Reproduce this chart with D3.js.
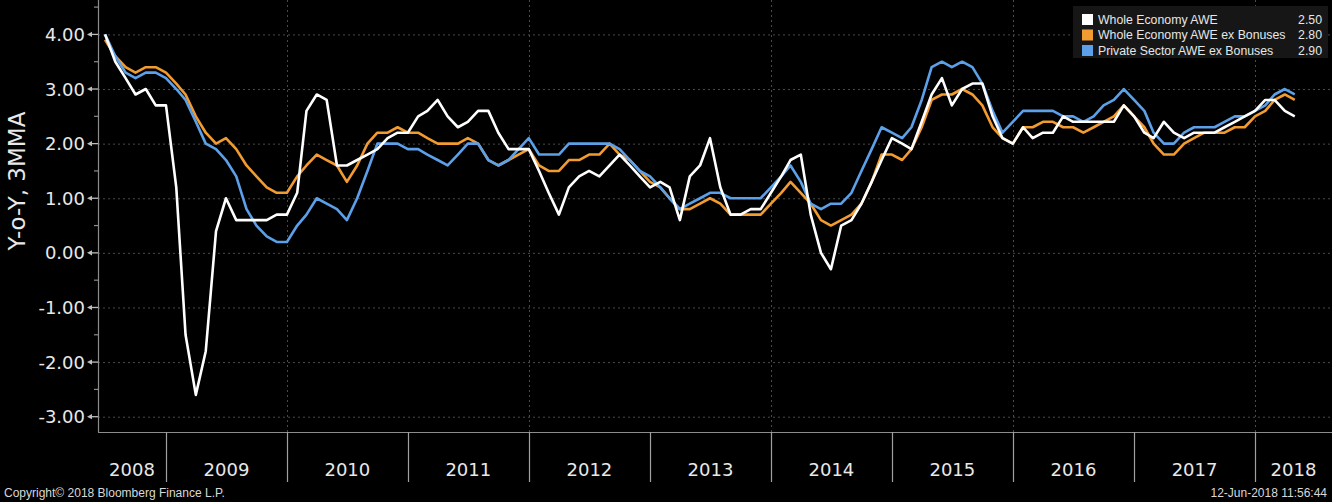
<!DOCTYPE html>
<html>
<head>
<meta charset="utf-8">
<script src="https://cdn.jsdelivr.net/npm/d3@7"></script>
<style>
  html, body { margin: 0; padding: 0; background: #000; }
  svg { display: block; }
</style>
</head>
<body>
<svg id="chart" width="1332" height="502"></svg>
<script>
// ---------------- DATA ----------------
const firstMonth = "2008-06";   // first observation (monthly, 3MMA)
const seriesNames = ["Whole Economy AWE", "Whole Economy AWE ex Bonuses", "Private Sector AWE ex Bonuses"];
const legendValues = ["2.50", "2.80", "2.90"];
const yTickValues = [-3, -2, -1, 0, 1, 2, 3, 4];
const yearLabels = [2008, 2009, 2010, 2011, 2012, 2013, 2014, 2015, 2016, 2017, 2018];
const gridYears = [2010, 2012, 2014, 2016, 2018];

const wholeEconomy = [
  4.0, 3.5, 3.2, 2.9, 3.0, 2.7, 2.7, 1.2, -1.5, -2.6, -1.8, 0.4, 1.0, 0.6, 0.6, 0.6, 0.6, 0.7, 0.7, 1.1,
  2.6, 2.9, 2.8, 1.6, 1.6, 1.7, 1.8, 1.9, 2.1, 2.2, 2.2, 2.5, 2.6, 2.8, 2.5, 2.3, 2.4, 2.6, 2.6, 2.2,
  1.9, 1.9, 1.9, 1.5, 1.1, 0.7, 1.2, 1.4, 1.5, 1.4, 1.6, 1.8, 1.6, 1.4, 1.2, 1.3, 1.2, 0.6, 1.4, 1.6,
  2.1, 1.2, 0.7, 0.7, 0.8, 0.8, 1.1, 1.4, 1.7, 1.8, 0.7, 0.0, -0.3, 0.5, 0.6, 0.9, 1.3, 1.7, 2.1, 2.0,
  1.9, 2.4, 2.9, 3.2, 2.7, 3.0, 3.1, 3.1, 2.5, 2.1, 2.0, 2.3, 2.1, 2.2, 2.2, 2.5, 2.4, 2.4, 2.4, 2.4,
  2.4, 2.7, 2.5, 2.2, 2.1, 2.4, 2.2, 2.1, 2.2, 2.2, 2.2, 2.3, 2.4, 2.5, 2.6, 2.8, 2.8, 2.6, 2.5
];
const wholeExBonus = [
  3.9, 3.6, 3.4, 3.3, 3.4, 3.4, 3.3, 3.1, 2.9, 2.5, 2.2, 2.0, 2.1, 1.9, 1.6, 1.4, 1.2, 1.1, 1.1, 1.4,
  1.6, 1.8, 1.7, 1.6, 1.3, 1.6, 2.0, 2.2, 2.2, 2.3, 2.2, 2.2, 2.1, 2.0, 2.0, 2.0, 2.1, 2.0, 1.7, 1.6,
  1.7, 1.8, 1.9, 1.6, 1.5, 1.5, 1.7, 1.7, 1.8, 1.8, 2.0, 1.8, 1.7, 1.5, 1.3, 1.2, 1.0, 0.8, 0.8, 0.9,
  1.0, 0.9, 0.7, 0.7, 0.7, 0.7, 0.9, 1.1, 1.3, 1.1, 0.9, 0.6, 0.5, 0.6, 0.7, 0.9, 1.3, 1.8, 1.8, 1.7,
  1.9, 2.3, 2.8, 2.9, 2.9, 3.0, 2.9, 2.7, 2.3, 2.1, 2.0, 2.3, 2.3, 2.4, 2.4, 2.3, 2.3, 2.2, 2.3, 2.4,
  2.5, 2.7, 2.5, 2.3, 2.0, 1.8, 1.8, 2.0, 2.1, 2.2, 2.2, 2.2, 2.3, 2.3, 2.5, 2.6, 2.8, 2.9, 2.8
];
const privateExBonus = [
  4.0, 3.6, 3.3, 3.2, 3.3, 3.3, 3.2, 3.0, 2.8, 2.4, 2.0, 1.9, 1.7, 1.4, 0.8, 0.5, 0.3, 0.2, 0.2, 0.5,
  0.7, 1.0, 0.9, 0.8, 0.6, 1.0, 1.5, 2.0, 2.0, 2.0, 1.9, 1.9, 1.8, 1.7, 1.6, 1.8, 2.0, 2.0, 1.7, 1.6,
  1.7, 1.9, 2.1, 1.8, 1.8, 1.8, 2.0, 2.0, 2.0, 2.0, 2.0, 1.9, 1.7, 1.5, 1.4, 1.2, 1.0, 0.8, 0.9, 1.0,
  1.1, 1.1, 1.0, 1.0, 1.0, 1.0, 1.2, 1.4, 1.6, 1.3, 0.9, 0.8, 0.9, 0.9, 1.1, 1.5, 1.9, 2.3, 2.2, 2.1,
  2.3, 2.8, 3.4, 3.5, 3.4, 3.5, 3.4, 3.1, 2.6, 2.2, 2.4, 2.6, 2.6, 2.6, 2.6, 2.5, 2.5, 2.4, 2.5, 2.7,
  2.8, 3.0, 2.8, 2.6, 2.2, 2.0, 2.0, 2.2, 2.3, 2.3, 2.3, 2.4, 2.5, 2.5, 2.6, 2.7, 2.9, 3.0, 2.9
];

// ---------------- LAYOUT ----------------
const W = 1332, H = 502;
const plot = { left: 98, right: 1332, top: 0, bottom: 432 };
const colors = ["#ffffff", "#f29b30", "#5ba0e8"];
const axisColor = "#8c8c8c";
const textColor = "#e8e8e8";
const smallFont = "Liberation Sans, Arial, sans-serif";

const svg = d3.select("#chart");
svg.append("rect").attr("width", W).attr("height", H).attr("fill", "#000");

// monthly dates (observation placed at month end)
const parseMonth = d3.timeParse("%Y-%m");
const start = parseMonth(firstMonth);
const dates = wholeEconomy.map((_, i) => d3.timeMonth.offset(start, i + 1));

const x = d3.scaleTime()
  .domain([new Date(2009, 0, 1), new Date(2018, 0, 1)])
  .range([166, 1255]);
const y = d3.scaleLinear().domain([-3.28, 4.63]).range([plot.bottom, plot.top]);

// clip
svg.append("defs").append("clipPath").attr("id", "clip")
  .append("rect").attr("x", plot.left).attr("y", plot.top)
  .attr("width", plot.right - plot.left).attr("height", plot.bottom - plot.top);

// grid
const grid = svg.append("g");
grid.selectAll("line.h").data(yTickValues).enter().append("line")
  .attr("x1", plot.left).attr("x2", plot.right)
  .attr("y1", d => y(d) + 0.5).attr("y2", d => y(d) + 0.5)
  .attr("stroke", "#4a4a4a").attr("stroke-width", 1).attr("stroke-dasharray", "2,3");
grid.selectAll("line.v").data(gridYears).enter().append("line")
  .attr("x1", d => Math.round(x(new Date(d, 0, 1))) + 0.5).attr("x2", d => Math.round(x(new Date(d, 0, 1))) + 0.5)
  .attr("y1", plot.top).attr("y2", plot.bottom)
  .attr("stroke", "#4a4a4a").attr("stroke-width", 1).attr("stroke-dasharray", "2,3");

// lines
const lineGen = d3.line().x((d, i) => x(dates[i])).y(d => y(d));
const lines = svg.append("g").attr("clip-path", "url(#clip)");
const drawOrder = [
  { vals: wholeExBonus, c: colors[1] },
  { vals: privateExBonus, c: colors[2] },
  { vals: wholeEconomy, c: colors[0] }
];
drawOrder.forEach(s => {
  lines.append("path").datum(s.vals)
    .attr("d", lineGen)
    .attr("fill", "none").attr("stroke", s.c)
    .attr("stroke-width", 2.6).attr("stroke-linejoin", "round");
});

// axes lines
svg.append("line").attr("x1", plot.left + 0.5).attr("x2", plot.left + 0.5)
  .attr("y1", 0).attr("y2", plot.bottom).attr("stroke", axisColor).attr("stroke-width", 1.2);
svg.append("line").attr("x1", plot.left).attr("x2", plot.right)
  .attr("y1", plot.bottom + 0.5).attr("y2", plot.bottom + 0.5).attr("stroke", axisColor).attr("stroke-width", 1.2);

// y ticks
const yAxis = svg.append("g");
const minorTicks = d3.range(-3, 4.6, 0.5).filter(v => Math.abs(v % 1) > 0.1);
yAxis.selectAll("line.minor").data(minorTicks).enter().append("line")
  .attr("x1", plot.left - 4).attr("x2", plot.left)
  .attr("y1", d => y(d)).attr("y2", d => y(d))
  .attr("stroke", axisColor).attr("stroke-width", 1.2);
const majors = yAxis.selectAll("g.major").data(yTickValues).enter().append("g")
  .attr("transform", d => `translate(0,${y(d)})`);
majors.append("line").attr("x1", plot.left - 9).attr("x2", plot.left)
  .attr("y1", 0).attr("y2", 0).attr("stroke", "#bdbdbd").attr("stroke-width", 1.3);
majors.append("path").attr("d", `M${plot.left - 11},0 L${plot.left - 6},-2.6 L${plot.left - 6},2.6 Z`)
  .attr("fill", "#bdbdbd");
majors.append("text")
  .attr("x", 85).attr("y", 0).attr("dy", "0.36em")
  .attr("text-anchor", "end")
  .attr("font-family", "DejaVu Sans, Verdana, sans-serif").attr("font-size", 18)
  .attr("fill", textColor)
  .text(d => d3.format(".2f")(d).replace("\u2212", "-"));

// y title
svg.append("text")
  .attr("transform", "translate(17,181) rotate(-90)")
  .attr("text-anchor", "middle").attr("dy", "0.36em")
  .attr("font-family", "DejaVu Sans, Verdana, sans-serif").attr("font-size", 23)
  .attr("fill", textColor)
  .text("Y-o-Y, 3MMA");

// x year separators and labels
const sepYears = yearLabels.slice(1);
svg.selectAll("line.sep").data(sepYears).enter().append("line")
  .attr("x1", d => Math.round(x(new Date(d, 0, 1))) + 0.5).attr("x2", d => Math.round(x(new Date(d, 0, 1))) + 0.5)
  .attr("y1", plot.bottom).attr("y2", 482)
  .attr("stroke", "#a0a0a0").attr("stroke-width", 1.2);
svg.selectAll("text.year").data(yearLabels).enter().append("text")
  .attr("x", d => {
    const a = Math.max(plot.left, x(new Date(d, 0, 1)));
    const b = Math.min(plot.right, x(new Date(d + 1, 0, 1)));
    return (a + b) / 2;
  })
  .attr("y", 470).attr("dy", "0.36em")
  .attr("text-anchor", "middle")
  .attr("font-family", "DejaVu Sans, Verdana, sans-serif").attr("font-size", 18)
  .attr("fill", textColor)
  .text(d => d);

// legend
const lg = svg.append("g");
lg.append("rect").attr("x", 1073).attr("y", 6).attr("width", 255).attr("height", 52)
  .attr("fill", "#161616");
const rowsY = [19.5, 35, 50.5];
seriesNames.forEach((name, i) => {
  lg.append("rect").attr("x", 1082).attr("y", rowsY[i] - 5.5).attr("width", 11).attr("height", 11)
    .attr("fill", colors[i]);
  lg.append("text")
    .attr("x", 1098).attr("y", rowsY[i])
    .attr("dy", "0.36em")
    .attr("font-family", smallFont).attr("font-size", 12.3)
    .attr("fill", "#e6e6e6").text(name);
  lg.append("text")
    .attr("x", 1322).attr("y", rowsY[i])
    .attr("dy", "0.36em").attr("text-anchor", "end")
    .attr("font-family", smallFont).attr("font-size", 12.3)
    .attr("fill", "#e6e6e6").text(legendValues[i]);
});

// footer
svg.append("text")
  .attr("x", 4).attr("y", 493)
  .attr("dy", "0.36em")
  .attr("font-family", smallFont).attr("font-size", 12)
  .attr("fill", "#d8d8d8")
  .text("Copyright\u00A9 2018 Bloomberg Finance L.P.");
svg.append("text")
  .attr("x", 1327).attr("y", 493)
  .attr("dy", "0.36em").attr("text-anchor", "end")
  .attr("font-family", smallFont).attr("font-size", 12)
  .attr("fill", "#d8d8d8")
  .text("12-Jun-2018 11:56:44");
</script>
</body>
</html>
